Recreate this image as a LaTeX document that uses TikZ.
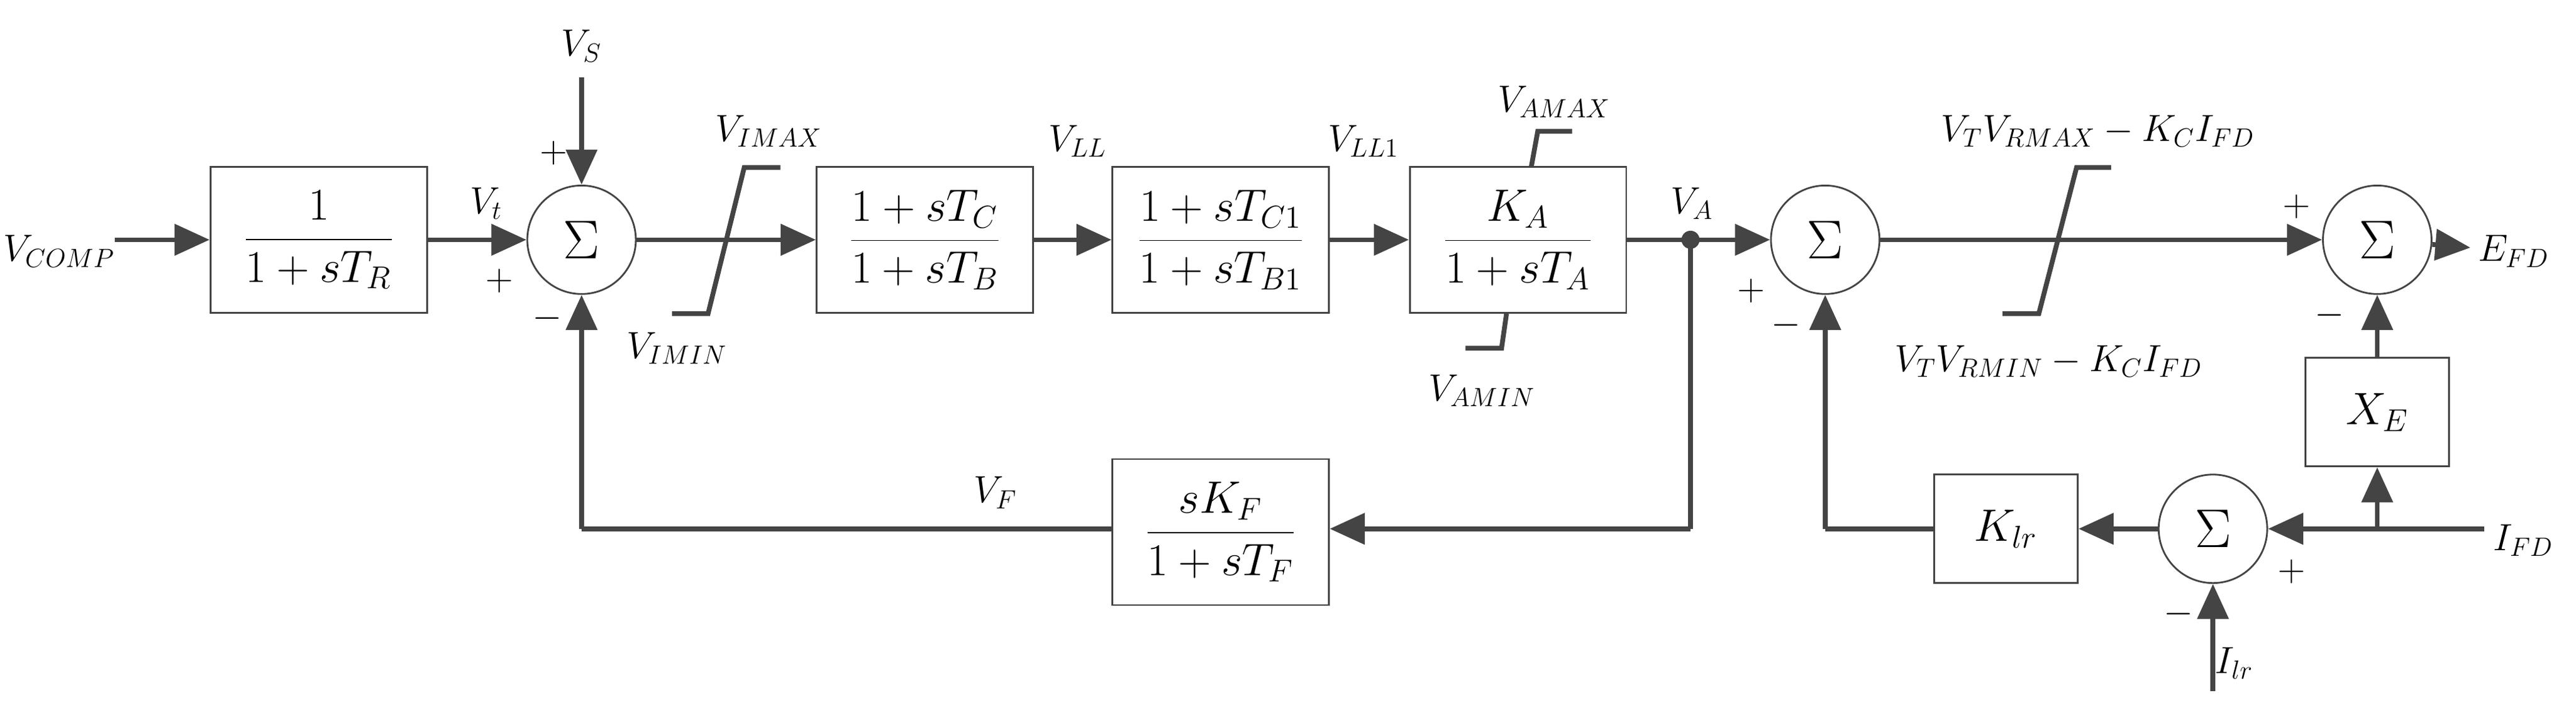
\documentclass[tikz,border=0pt]{standalone}
\usetikzlibrary{arrows.meta}
\definecolor{lgray}{HTML}{444444}
\tikzset{
  blk/.style={draw=lgray, thick, minimum width=3.47cm, minimum height=2.34cm, font=\fontsize{22}{24}\selectfont},
  sblk/.style={draw=lgray, thick, minimum width=2.3cm, minimum height=1.74cm, font=\fontsize{22}{24}\selectfont},
  sumn/.style={draw=lgray, thick, circle, minimum size=1.74cm, inner sep=0pt, font=\fontsize{26}{28}\selectfont},
  sig/.style={draw=lgray, line width=2.2pt, -{Triangle[length=16pt, width=14pt]}},
  lin/.style={draw=lgray, line width=2.2pt},
  lbl/.style={font=\fontsize{18}{20}\selectfont},
}
\begin{document}
\begin{tikzpicture}[x=0.02633cm, y=-0.02633cm]
    \useasboundingbox (0,0) rectangle (1568,431);

    % forward path
    \node[lbl] (vcomp) at (36,153) {$V_{COMP}$};
    \coordinate (vcompin) at (70,146);
    \node[blk] (tr) at (194,146) {$\displaystyle\frac{1}{1+sT_R}$};
    \node[sumn] (s1) at (354,146) {$\Sigma$};
    \node[blk] (tc) at (563,146) {$\displaystyle\frac{1+sT_C}{1+sT_B}$};
    \node[blk] (tc1) at (743,146) {$\displaystyle\frac{1+sT_{C1}}{1+sT_{B1}}$};
    \node[blk] (ka) at (924,146) {$\displaystyle\frac{K_A}{1+sT_A}$};
    \node[sumn] (s2) at (1111,146) {$\Sigma$};
    \node[sumn] (s3) at (1447,146) {$\Sigma$};
    \node[lbl] (efd) at (1530,153) {$E_{FD}$};

    \draw[sig] (vcompin) -- (tr);
    \draw[sig] (tr) -- (s1);
    \draw[sig] (s1) -- (tc);
    \draw[sig] (tc) -- (tc1);
    \draw[sig] (tc1) -- (ka);
    \draw[sig] (ka) -- (s2);
    \draw[sig] (s2) -- (s3);
    \draw[sig] (s3) -- (efd);

    % stabilizer input
    \node[lbl] (vs) at (354,28) {$V_S$};
    \coordinate (vsin) at (354,47);
    \draw[sig] (vsin) -- (s1);

    % limiters
    \draw[lin] (409,191) -- (431,191) -- (453,102) -- (475,102);
    \draw[lin] (932,102) -- (936,80) -- (957,80);
    \draw[lin] (917,191) -- (914,212) -- (892,212);
    \draw[lin] (1219,191) -- (1241,191) -- (1264,102) -- (1285,102);

    % feedback loop
    \coordinate (va) at (1029,146);
    \coordinate (vaf) at (1029,322);
    \fill[lgray] (va) circle (5.5);
    \node[blk] (tf) at (743,324) {$\displaystyle\frac{sK_F}{1+sT_F}$};
    \coordinate (vfc) at (354,322);
    \draw[lin] (va) -- (vaf);
    \draw[sig] (vaf) -- (tf.east |- vaf);
    \draw[lin] (tf.west |- vfc) -- (vfc);
    \draw[sig] (vfc) -- (s1);

    % field current
    \node[lbl] (ifd) at (1536,329) {$I_{FD}$};
    \coordinate (ifdin) at (1512,322);
    \coordinate (br) at (1447,322);
    \node[sblk] (xe) at (1447,251) {$X_E$};
    \node[sumn] (s4) at (1347,322) {$\Sigma$};
    \node[sblk] (klr) at (1221,322) {$K_{lr}$};
    \node[lbl] (ilr) at (1360,404) {$I_{lr}$};
    \coordinate (ilrin) at (1347,421);
    \coordinate (klrc) at (1111,322);
    \draw[sig] (ifdin) -- (s4);
    \draw[sig] (br) -- (xe);
    \draw[sig] (xe) -- (s3);
    \draw[sig] (ilrin) -- (s4);
    \draw[sig] (s4) -- (klr);
    \draw[lin] (klr) -- (klrc);
    \draw[sig] (klrc) -- (s2);

    % signal labels
    \node[lbl] (vt) at (296,124) {$V_t$};
    \node[lbl] (vimax) at (468,80) {$V_{IMAX}$};
    \node[lbl] (vimin) at (412,212) {$V_{IMIN}$};
    \node[lbl] (vll) at (656,86) {$V_{LL}$};
    \node[lbl] (vll1) at (830,86) {$V_{LL1}$};
    \node[lbl] (vamax) at (946,62) {$V_{AMAX}$};
    \node[lbl] (vamin) at (902,238) {$V_{AMIN}$};
    \node[lbl] (valbl) at (1030,124) {$V_A$};
    \node[lbl] (vrmax) at (1277,80) {$V_TV_{RMAX}-K_CI_{FD}$};
    \node[lbl] (vrmin) at (1247,220) {$V_TV_{RMIN}-K_CI_{FD}$};
    \node[lbl] (vf) at (606,300) {$V_F$};

    % signs
    \node[lbl] (p1) at (337,93) {$+$};
    \node[lbl] (p2) at (304,171) {$+$};
    \node[lbl] (m1) at (333,194) {$-$};
    \node[lbl] (p3) at (1066,177) {$+$};
    \node[lbl] (m2) at (1087,198) {$-$};
    \node[lbl] (p4) at (1398,126) {$+$};
    \node[lbl] (m3) at (1418,192) {$-$};
    \node[lbl] (p5) at (1395,348) {$+$};
    \node[lbl] (m4) at (1326,374) {$-$};
\end{tikzpicture}
\end{document}
